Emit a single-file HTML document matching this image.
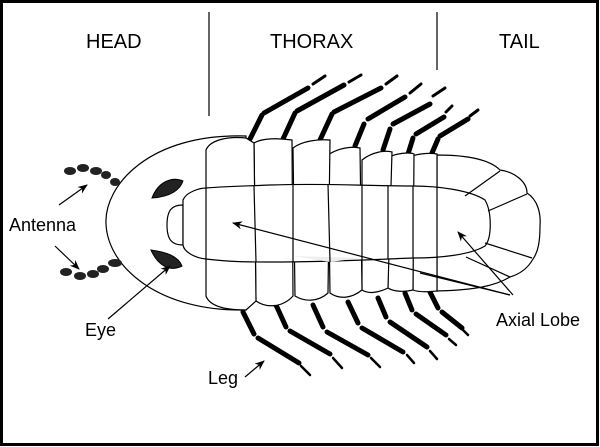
<!DOCTYPE html>
<html><head><meta charset="utf-8"><style>
html,body{margin:0;padding:0;background:#fff}
svg{display:block}
text{font-family:"Liberation Sans",Arial,sans-serif;fill:#000}
</style></head><body>
<svg width="600" height="447" viewBox="0 0 600 447" xmlns="http://www.w3.org/2000/svg">
<defs><marker id="ah" markerWidth="10" markerHeight="8" refX="9" refY="4" orient="auto" markerUnits="userSpaceOnUse"><path d="M0,0 L10,4 L0,8 L3,4 Z" fill="#000"/></marker></defs>
<rect x="1.5" y="1.5" width="596" height="443" fill="#fff" stroke="#000" stroke-width="3"/>
<line x1="209" y1="12" x2="209" y2="116" stroke="#000" stroke-width="1.2"/>
<line x1="437" y1="12" x2="437" y2="70" stroke="#000" stroke-width="1.2"/>
<text x="86" y="48" font-size="20">HEAD</text>
<text x="270" y="48" font-size="20">THORAX</text>
<text x="499" y="48" font-size="20">TAIL</text>

<g stroke="#000" fill="none">
<!-- top legs -->
<g stroke-width="5" stroke-linecap="round">
<path d="M250,139 L262,115"/><path d="M264,113 L308,88"/>
<path d="M283,139 L295,113"/><path d="M297,111 L344,85"/>
<path d="M320,140 L332,114"/><path d="M334,112 L381,88"/>
<path d="M355,146 L364,124"/><path d="M368,119 L405,97"/>
<path d="M383,150 L390,129"/><path d="M393,124 L430,104"/>
<path d="M408,154 L413,138"/><path d="M416,134 L444,117"/>
<path d="M432,153 L438,139"/><path d="M440,136 L468,119"/>
</g>
<g stroke-width="3" stroke-linecap="round">
<path d="M313,84 L325,76"/><path d="M349,82 L361,75"/><path d="M386,84 L397,76"/>
<path d="M410,93 L421,84"/><path d="M433,96 L445,88"/><path d="M446,112 L452,106"/><path d="M470,116 L478,110"/>
</g>
<!-- bottom legs -->
<g stroke-width="5" stroke-linecap="round">
<path d="M243,312 L254,334"/><path d="M258,338 L299,363"/>
<path d="M276,305 L286,327"/><path d="M290,331 L330,354"/>
<path d="M313,305 L323,327"/><path d="M327,332 L368,355"/>
<path d="M348,302 L358,323"/><path d="M362,328 L403,352"/>
<path d="M378,298 L386,317"/><path d="M390,322 L427,347"/>
<path d="M405,293 L412,310"/><path d="M416,314 L446,335"/>
<path d="M430,292 L438,308"/><path d="M442,312 L462,328"/>
</g>
<g stroke-width="2.5" stroke-linecap="round">
<path d="M301,366 L310,375"/><path d="M333,358 L342,368"/><path d="M371,358 L380,367"/>
<path d="M407,355 L414,363"/><path d="M430,351 L437,359"/><path d="M449,339 L456,345"/><path d="M463,330 L468,335"/>
</g>
</g>

<g stroke="#000" stroke-width="1.2" fill="#fff">
<!-- head -->
<path d="M246,136 C150,133 104,185 106,224 C108,268 160,312 246,310 Z"/>
<!-- tail -->
<path d="M437,155 C470,155 490,160 500,170 C515,172 527,182 527,193 C538,200 541,214 540,226 C540,242 538,252 533,259 C528,268 520,274 510,277 C495,286 475,290 437,291 Z"/>
<!-- segments (back to front) -->
<path d="M413,156 C420,153 432,153 437,154 L437,291 C428,292 418,292 413,290 Z"/>
<path d="M388,158 C395,153 410,152 414,154 L413,290 C405,292 394,292 388,288 Z"/>
<path d="M362,160 C372,152 385,150 392,152 L388,288 C378,293 368,294 362,290 Z"/>
<path d="M328,155 C338,148 352,146 360,148 L362,290 C352,298 340,300 330,293 Z"/>
<path d="M293,148 C302,141 318,139 330,140 L328,293 C318,302 305,302 295,296 Z"/>
<path d="M254,143 C262,138 278,138 292,140 L293,296 C282,308 266,308 256,301 Z"/>
<path d="M206,150 C210,140 228,136 246,138 L254,143 L256,301 L246,310 C228,310 210,307 206,296 Z"/>
<!-- axial lobe -->
<path d="M183,205 C172,205 167,210 167,225 C167,240 172,245 183,245 Z"/>
<path d="M183,200 C186,192 200,188 206,188 C230,186 250,186 270,185 C330,183 360,186 413,186 C437,186 470,190 485,200 C492,212 492,238 485,246 C470,255 440,258 413,258 C360,260 330,262 270,262 C250,262 230,262 206,259 C195,258 184,252 183,245 Z"/>
</g>
<path d="M293,256 L360,258 L330,262 Z" fill="#eee"/>
<!-- segment boundaries across lobe -->
<g stroke="#000" stroke-width="1.2" fill="none">
<path d="M206,188 L206,259"/><path d="M254,186 L256,262"/><path d="M293,185 L293,262"/><path d="M328,184 L330,262"/>
<path d="M362,185 L362,260"/><path d="M388,186 L388,259"/><path d="M413,186 L413,258"/><path d="M437,187 L437,258"/>
<path d="M465,196 L500,171"/><path d="M488,211 L527,194"/><path d="M485,243 L532,258"/><path d="M466,257 L510,277"/>
<path d="M420,273 L510,295"/>
</g>
<!-- eyes -->
<path d="M152,198 C158,182 172,176 183,181 C180,190 170,197 152,198 Z" fill="#222" stroke="#000"/>
<path d="M151,250 C166,252 178,256 182,266 C170,272 158,266 151,250 Z" fill="#222" stroke="#000"/>
<!-- antennae -->
<g fill="#222">
<ellipse cx="70" cy="171" rx="6" ry="4"/><ellipse cx="83" cy="168" rx="6" ry="4"/><ellipse cx="96" cy="171" rx="6" ry="4"/><ellipse cx="106" cy="175" rx="5" ry="4"/><ellipse cx="115" cy="182" rx="5" ry="4"/>
<ellipse cx="66" cy="272" rx="6" ry="4"/><ellipse cx="80" cy="276" rx="6" ry="4"/><ellipse cx="93" cy="274" rx="6" ry="4"/><ellipse cx="103" cy="269" rx="6" ry="4"/><ellipse cx="115" cy="263" rx="7" ry="4"/>
</g>
<!-- arrows -->
<g stroke="#000" stroke-width="1.2" fill="none" marker-end="url(#ah)">
<line x1="59" y1="205" x2="87" y2="185"/>
<line x1="55" y1="246" x2="79" y2="269"/>
<line x1="108" y1="319" x2="170" y2="266"/>
<line x1="245" y1="377" x2="264" y2="361"/>
<line x1="510" y1="295" x2="233" y2="223"/>
<line x1="513" y1="295" x2="458" y2="232"/>
</g>
<text x="9" y="231" font-size="18">Antenna</text>
<text x="85" y="336" font-size="18">Eye</text>
<text x="208" y="384" font-size="18">Leg</text>
<text x="496" y="326" font-size="18">Axial Lobe</text>
</svg>
</body></html>
